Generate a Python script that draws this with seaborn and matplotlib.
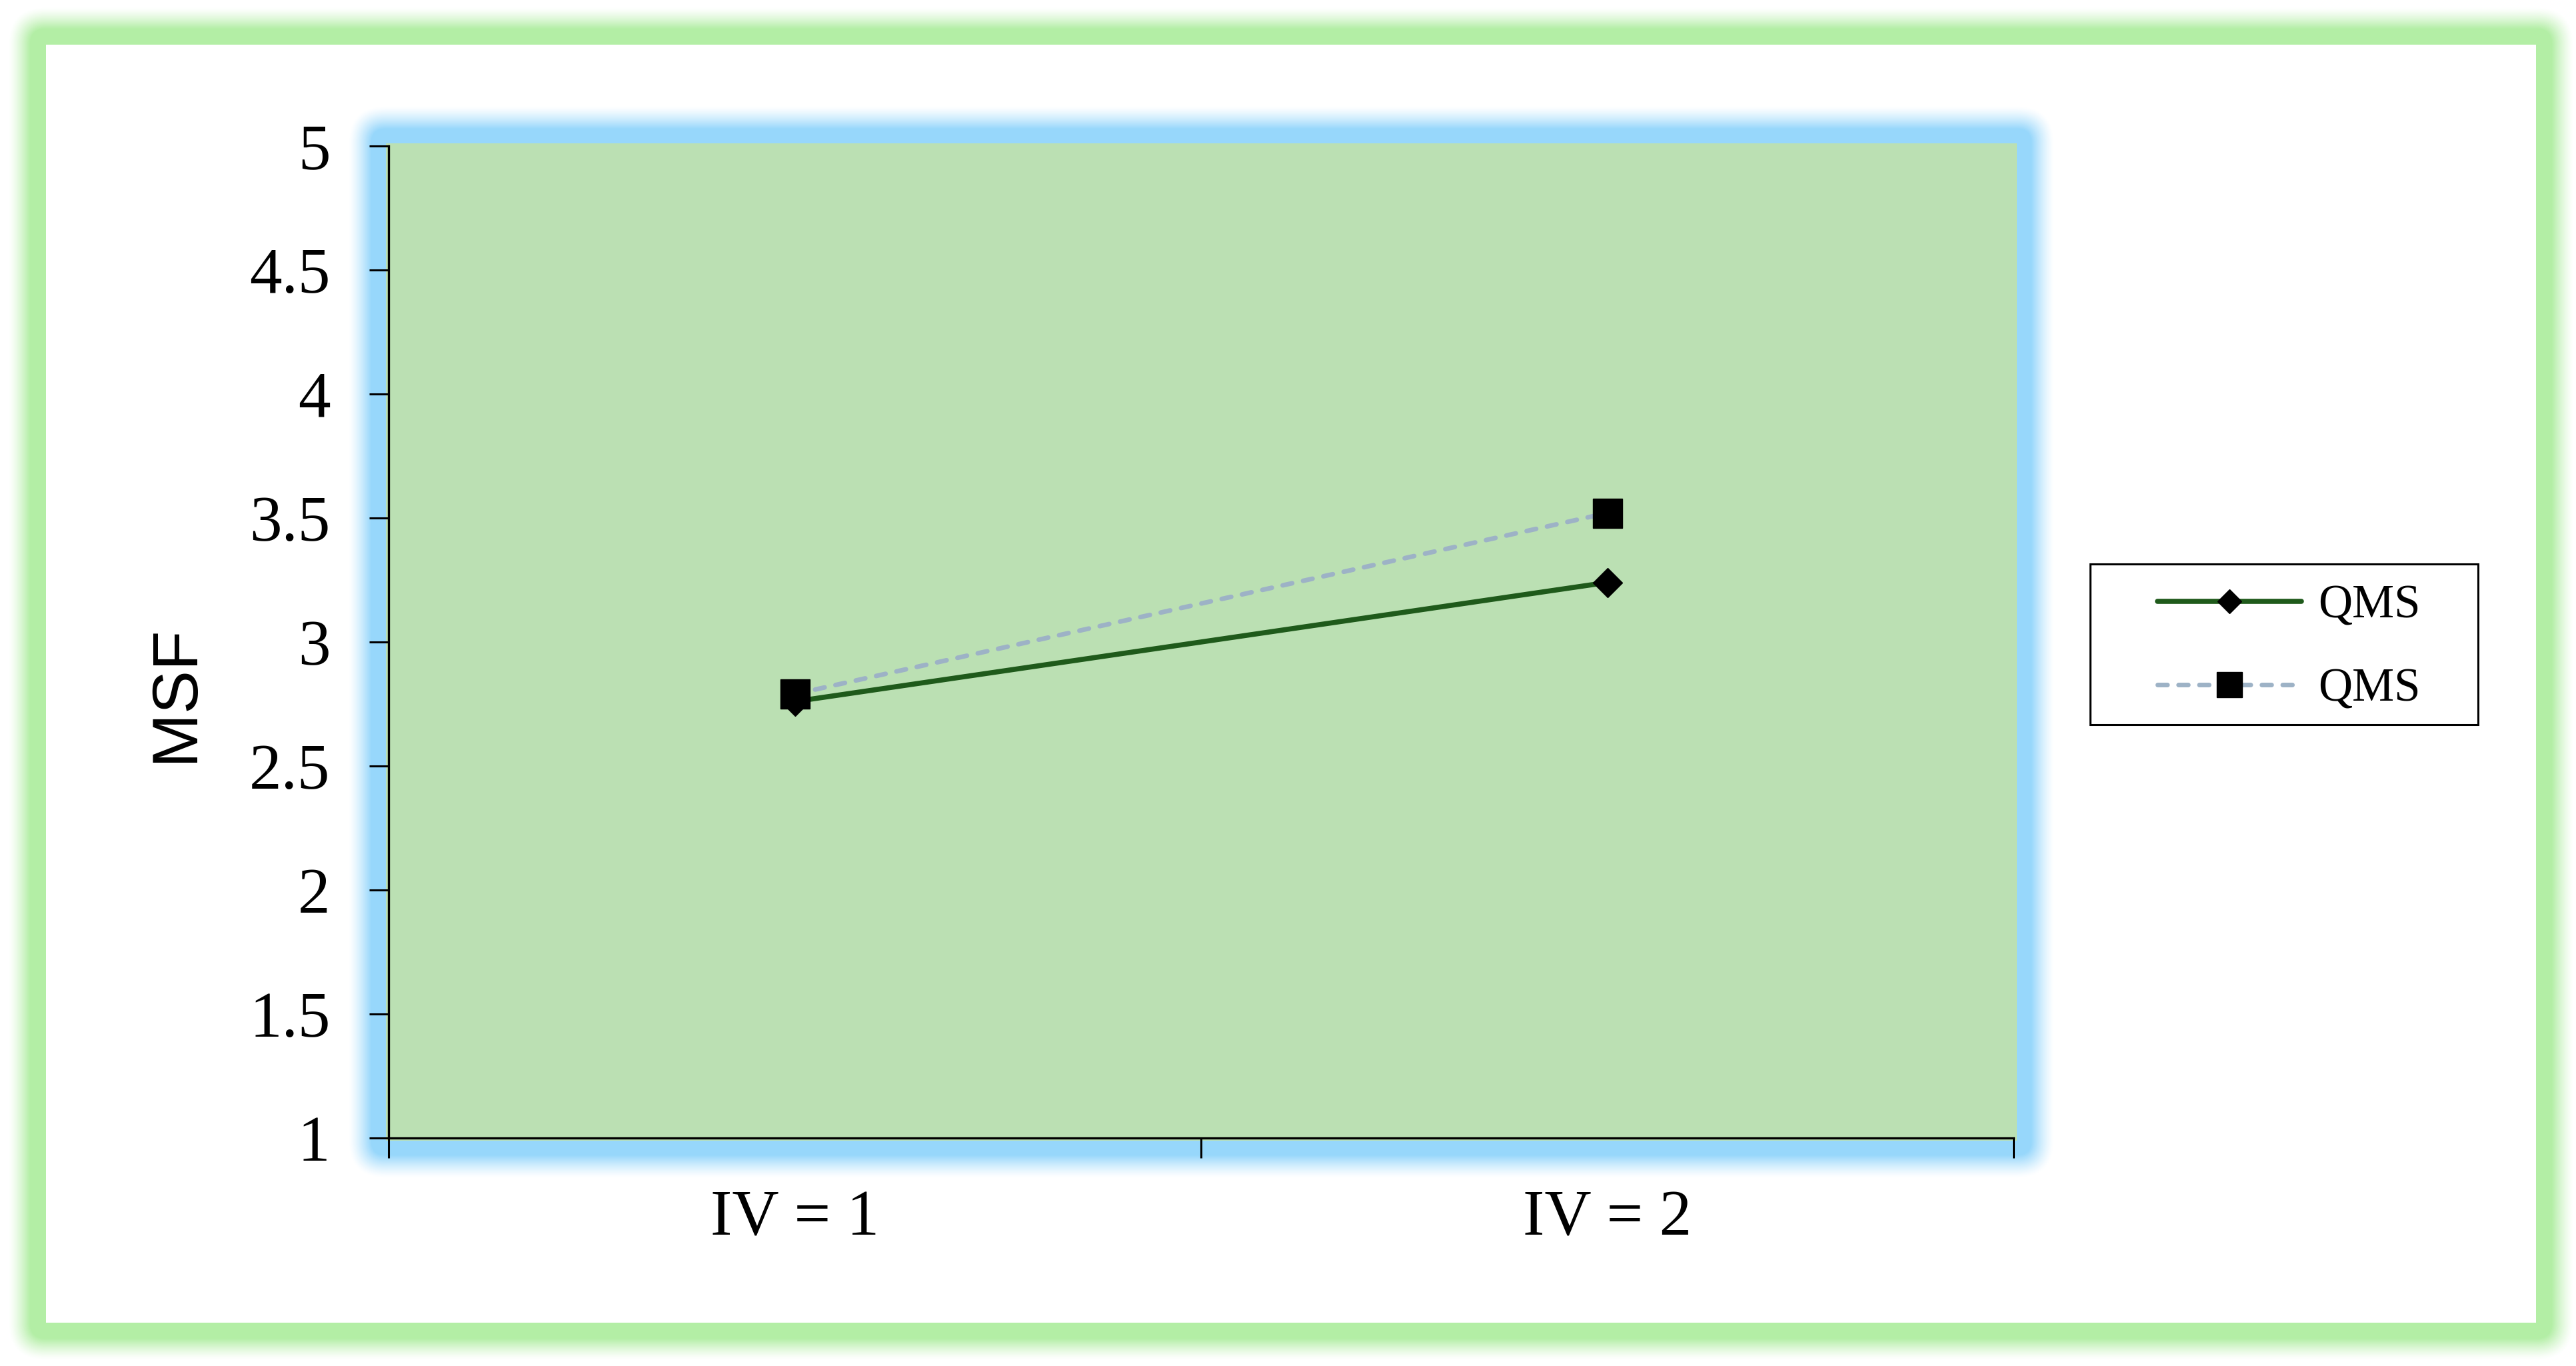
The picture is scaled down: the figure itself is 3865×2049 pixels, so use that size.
import matplotlib
matplotlib.use("Agg")
import matplotlib.pyplot as plt
import seaborn as sns
import pandas as pd
from matplotlib.patches import FancyBboxPatch, Rectangle
from matplotlib.transforms import IdentityTransform

# ---------------- data ----------------
categories = ["IV = 1", "IV = 2"]
series_diamond = [2.76, 3.24]   # solid dark green line, diamond markers
series_square = [2.79, 3.52]    # dashed grey-blue line, square markers
legend_labels = ["QMS", "QMS"]
y_ticks = [1, 1.5, 2, 2.5, 3, 3.5, 4, 4.5, 5]
y_tick_labels = ["1", "1.5", "2", "2.5", "3", "3.5", "4", "4.5", "5"]
y_label = "MSF"

# ---------------- style ----------------
sns.set_theme(style="white")
plt.rcParams["font.family"] = ["Liberation Serif", "DejaVu Serif"]

W, H, DPI = 3866, 2049, 100
fig = plt.figure(figsize=(W / DPI, H / DPI), dpi=DPI)
fig.patch.set_facecolor("white")


def mix(c, t):
    r, g, b = matplotlib.colors.to_rgb(c)
    return (1 - t + t * r, 1 - t + t * g, 1 - t + t * b)


def glow(x0, y0, x1, y1, color, solid, fade, z, n=40):
    """Soft glow around a rectangle given in top-left pixel coords."""
    bx, by = x0, H - y1
    w, h = x1 - x0, y1 - y0
    for i in range(n, 0, -1):
        p = solid + fade * i / n
        t = (1 - i / n) ** 1.3
        fig.add_artist(FancyBboxPatch((bx, by), w, h,
                                      boxstyle=f"round,pad={p},rounding_size={p}",
                                      transform=IdentityTransform(),
                                      fc=mix(color, t), ec="none", zorder=z))
    fig.add_artist(FancyBboxPatch((bx, by), w, h,
                                  boxstyle=f"round,pad={solid},rounding_size={solid}",
                                  transform=IdentityTransform(),
                                  fc=color, ec="none", zorder=z))


# outer chart-area green glow + white chart area
glow(69, 67, 3805, 1984, "#B3EEA5", 24, 32, -30)
fig.add_artist(Rectangle((69, H - 1984), 3805 - 69, 1984 - 67,
                         transform=IdentityTransform(), fc="white", ec="none",
                         zorder=-20))
# plot-area blue glow + green plot area
glow(579, 215, 3026, 1711, "#97D7FB", 22, 34, -15)
fig.add_artist(Rectangle((579, H - 1711), 3026 - 579, 1711 - 215,
                         transform=IdentityTransform(), fc="#BBE0B3", ec="none",
                         zorder=-5))

left, right, top, bottom = 583, 3021, 219, 1707
ax = fig.add_axes([left / W, (H - bottom) / H, (right - left) / W, (bottom - top) / H])
ax.set_facecolor("none")

df_a = pd.DataFrame({"cat": categories, "val": series_diamond})
df_b = pd.DataFrame({"cat": categories, "val": series_square})

sns.lineplot(data=df_a, x="cat", y="val", ax=ax, color="#1F5A1B",
             linewidth=5.5, marker="D", markersize=22, markerfacecolor="black",
             markeredgecolor="black", markeredgewidth=1, label=legend_labels[0],
             legend=False, solid_capstyle="round")
sns.lineplot(data=df_b, x="cat", y="val", ax=ax, color="#9DB2C6",
             linewidth=5, marker="s", markersize=32, markerfacecolor="black",
             markeredgecolor="black", markeredgewidth=1, label=legend_labels[1],
             legend=False, linestyle=(0, (2.1, 2.4)), dash_capstyle="round")

ax.set_xlim(-0.5, len(categories) - 0.5)
ax.set_ylim(1, 5)

# axes / spines
for s in ["top", "right"]:
    ax.spines[s].set_visible(False)
for s in ["left", "bottom"]:
    ax.spines[s].set_color("black")
    ax.spines[s].set_linewidth(2.4)

ax.set_yticks(y_ticks)
ax.set_yticklabels(y_tick_labels)
ax.tick_params(axis="y", which="major", direction="out", length=21, width=2.2,
               pad=42, labelsize=70, colors="black", left=True)

ax.set_xticks(range(len(categories)))
ax.set_xticklabels(categories)
ax.set_xticks([i - 0.5 for i in range(len(categories) + 1)], minor=True)
ax.tick_params(axis="x", which="major", length=0, pad=56, labelsize=70,
               colors="black")
ax.tick_params(axis="x", which="minor", direction="out", length=21.6, width=2.2,
               bottom=True, colors="black")
ax.set_xlabel("")
ax.grid(False)

ax.set_ylabel(y_label, fontsize=70, family=["Liberation Sans", "DejaVu Sans"],
              color="black")
ax.yaxis.set_label_coords(-0.1308, 0.448)
ax.yaxis.label.set_va("center")

# legend
leg = ax.legend(loc="center left", bbox_to_anchor=(1.0886, 0.4943),
                frameon=False, fontsize=51, handlelength=3.05,
                handletextpad=0.35, labelspacing=0.85, borderpad=0,
                borderaxespad=0, markerscale=0.84)
for t in leg.get_texts():
    t.set_color("black")
ax.add_patch(Rectangle((1.0472, 0.4167), 0.2387, 0.1619, transform=ax.transAxes,
                       fill=False, ec="black", lw=2.2, clip_on=False))

fig.savefig("out.png", dpi=DPI, facecolor="white")
